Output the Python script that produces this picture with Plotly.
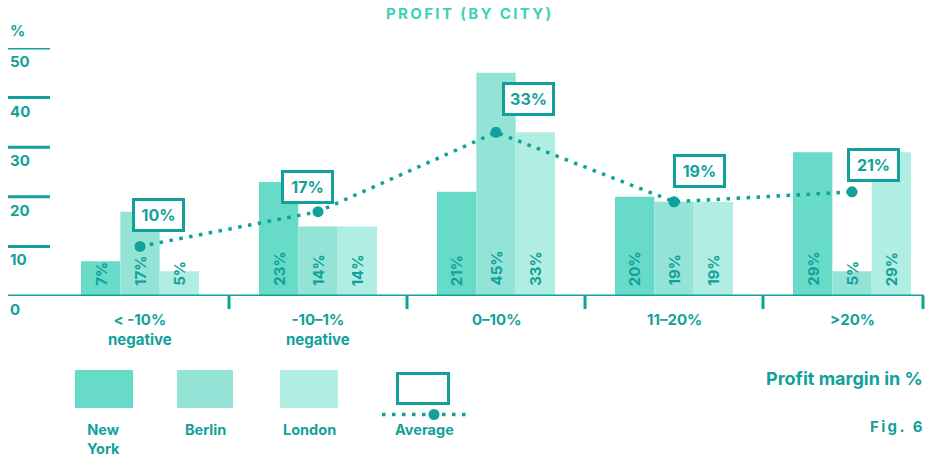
import plotly.graph_objects as go

# ---------------- data ----------------
categories = ["< -10%", "-10\u20131%", "0\u201310%", "11\u201320%", ">20%"]
category_sub = ["negative", "negative", "", "", ""]
new_york = [7, 23, 21, 20, 29]
berlin = [17, 14, 45, 19, 5]
london = [5, 14, 33, 19, 29]
average = [10, 17, 33, 19, 21]
series_names = ["New York", "Berlin", "London"]
legend_labels = ["New<br>York", "Berlin", "London", "Average"]
y_ticks = [10, 20, 30, 40, 50]

# ---------------- style ----------------
TEAL = "#12a19a"
TITLE_C = "#3dd1b5"
C_NY = "#67dbc8"
C_BE = "#93e3d6"
C_LO = "#b0ede2"
FONT = "Inter"
FS = 15

W, H = 932, 460
PX_L, PX_R, PX_T, PX_B = 8, 925, 48, 296
X_RANGE = [-0.7416, 4.410]
BARGAP = 0.337
BW = (1 - BARGAP) / 3

# box offsets (pixels) for the average labels
avg_dx = [18, -11, 32, 25, 21]
avg_dy = [14, 8, 16, 14, 10]


def pxx(px):
    return (px - PX_L) / (PX_R - PX_L)


def pxy(py):
    return (PX_B - py) / (PX_B - PX_T)


def txt(s, size=FS, color=TEAL):
    return dict(text=f"<b>{s}</b>", font=dict(family=FONT, size=size, color=color), showarrow=False)


fig = go.Figure()
xs = list(range(len(categories)))
for name, vals, col in zip(series_names, [new_york, berlin, london], [C_NY, C_BE, C_LO]):
    fig.add_trace(go.Bar(x=xs, y=vals, name=name, marker=dict(color=col, line=dict(width=0)),
                         hoverinfo="skip", showlegend=False))

fig.add_trace(go.Scatter(x=xs, y=average, mode="lines+markers", name="Average",
                         line=dict(color=TEAL, width=3.5, dash="3.5px,6.5px"),
                         marker=dict(color=TEAL, size=11), showlegend=False, hoverinfo="skip",
                         cliponaxis=False))

ann = []
shapes = []

# bar value labels (rotated)
for j, vals in enumerate([new_york, berlin, london]):
    for i, v in enumerate(vals):
        ann.append(dict(x=i + (j - 1) * BW, y=0, xref="x", yref="y", textangle=-90,
                        xanchor="center", yanchor="bottom", yshift=8, **txt(f"{v}%", 15)))

# average boxes
for i, v in enumerate(average):
    ann.append(dict(x=i, y=v, xref="x", yref="y",
                    xanchor="center", yanchor="bottom", xshift=avg_dx[i], yshift=avg_dy[i],
                    width=41, height=22, borderpad=3, borderwidth=3, bordercolor=TEAL,
                    bgcolor="white", **txt(f"{v}%", 16)))

# category labels
for i, (c, s) in enumerate(zip(categories, category_sub)):
    label = c + ("<br>" + s if s else "")
    ann.append(dict(x=i, y=pxy(308), xref="x", yref="paper",
                    xanchor="center", yanchor="top", **txt(label)))

# y tick labels and lines
for t in y_ticks:
    shapes.append(dict(type="line", xref="paper", yref="y", x0=pxx(8), x1=pxx(50), y0=t, y1=t,
                       line=dict(color=TEAL, width=3)))
    ann.append(dict(x=pxx(8), y=t, xref="paper", yref="y",
                    xanchor="left", yanchor="top", yshift=-2, **txt(str(t))))
ann.append(dict(x=pxx(8), y=0, xref="paper", yref="y",
                xanchor="left", yanchor="top", yshift=-2, **txt("0")))
ann.append(dict(x=pxx(8), y=pxy(30), xref="paper", yref="paper",
                xanchor="left", yanchor="middle", **txt("%")))

# baseline, separators, right end tick
shapes.append(dict(type="line", xref="paper", yref="y", x0=pxx(8), x1=pxx(924), y0=0, y1=0,
                   line=dict(color=TEAL, width=3)))
for i in range(len(categories) - 1):
    shapes.append(dict(type="line", xref="x", yref="paper", x0=i + 0.5, x1=i + 0.5,
                       y0=0, y1=pxy(309), line=dict(color=TEAL, width=3)))
shapes.append(dict(type="line", xref="paper", yref="paper", x0=pxx(923), x1=pxx(923),
                   y0=0, y1=pxy(309), line=dict(color=TEAL, width=3)))

# title
ts = "\u2009"
ann.append(dict(x=pxx(468), y=pxy(14), xref="paper", yref="paper",
                xanchor="center", yanchor="middle",
                **txt(ts.join("PROFIT (BY CITY)"), 15, TITLE_C)))

# legend
leg_boxes = [(75, 133, C_NY), (177, 233, C_BE), (280, 338, C_LO)]
for x0, x1, col in leg_boxes:
    shapes.append(dict(type="rect", xref="paper", yref="paper", x0=pxx(x0), x1=pxx(x1),
                       y0=pxy(408), y1=pxy(370), fillcolor=col, line=dict(width=0)))
shapes.append(dict(type="rect", xref="paper", yref="paper", x0=pxx(397.5), x1=pxx(448.5),
                   y0=pxy(403.5), y1=pxy(373.5), fillcolor="white", line=dict(color=TEAL, width=3)))
shapes.append(dict(type="line", xref="paper", yref="paper", x0=pxx(382), x1=pxx(468),
                   y0=pxy(414.5), y1=pxy(414.5), line=dict(color=TEAL, width=3.5, dash="3.5px,6.5px")))
shapes.append(dict(type="circle", xref="paper", yref="paper", x0=pxx(428.5), x1=pxx(439.5),
                   y0=pxy(420), y1=pxy(409), fillcolor=TEAL, line=dict(width=0)))

leg_x = [103, 205, 309, 424]
for cx, lab in zip(leg_x, legend_labels):
    ann.append(dict(x=pxx(cx), y=pxy(419), xref="paper", yref="paper",
                    xanchor="center", yanchor="top", **txt(lab, 14.5)))

ann.append(dict(x=pxx(925), y=pxy(378), xref="paper", yref="paper",
                xanchor="right", yanchor="middle", **txt("Profit margin in %", 18)))
ann.append(dict(x=pxx(925), y=pxy(426), xref="paper", yref="paper",
                xanchor="right", yanchor="middle", **txt(ts.join("Fig. 6"), 15)))

fig.update_layout(
    width=W, height=H,
    margin=dict(l=PX_L, r=W - PX_R, t=PX_T, b=H - PX_B, pad=0),
    paper_bgcolor="white", plot_bgcolor="white",
    barmode="group", bargap=BARGAP, bargroupgap=0,
    xaxis=dict(range=X_RANGE, showgrid=False, zeroline=False, showticklabels=False,
               showline=False, ticks="", fixedrange=True),
    yaxis=dict(range=[0, 50], showgrid=False, zeroline=False, showticklabels=False,
               showline=False, ticks="", fixedrange=True),
    annotations=ann, shapes=shapes, showlegend=False,
    font=dict(family=FONT, color=TEAL),
)
fig.write_html("out.html", config={"displayModeBar": False},
               post_script="document.body.style.margin='0';document.body.style.overflow='hidden';")
